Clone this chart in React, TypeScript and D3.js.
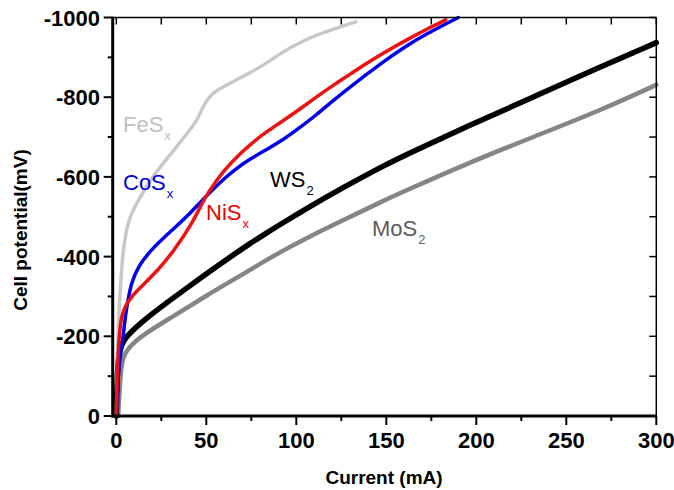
import React from "react";
import * as d3 from "d3";

type P = [number, number];

const xTicksMajor = [0, 50, 100, 150, 200, 250, 300];
const xTicksMinor = [25, 75, 125, 175, 225, 275];
const yTicksMajor = [0, -200, -400, -600, -800, -1000];
const yTicksMinor = [-100, -300, -500, -700, -900];

const feS: P[] = [
  [0, 0], [0.2, -50], [0.5, -100], [0.8, -166], [1.3, -249], [2.4, -333], [3.7, -417],
  [6.5, -492], [12, -540], [18, -585], [23, -617], [32, -667], [41.7, -722], [45.5, -747],
  [49, -785], [53, -808], [57, -820], [63, -835], [70, -851], [77, -868], [85, -890],
  [93, -915], [102, -937], [111, -956], [122, -973], [133, -989],
];
const coS: P[] = [
  [0, 0], [0.5, -60], [1.2, -110], [2.2, -150], [3.2, -180], [4.2, -215], [5, -250],
  [6.5, -291], [8.3, -333], [12, -375], [19.4, -417], [26, -446], [32.4, -472], [41.7, -512],
  [47, -538], [54, -570], [60, -596], [67, -622], [74, -644], [84, -670], [93, -694],
  [102, -724], [111, -755], [120.5, -792], [130, -826], [139, -857], [148, -888], [163, -935],
  [177, -970], [190, -1000],
];
const niS: P[] = [
  [0, 0], [0.3, -60], [0.6, -110], [1, -160], [1.8, -210], [2.8, -249], [4.7, -274],
  [8.3, -299], [13.9, -325], [23.2, -366], [32.4, -417], [41.7, -480], [47, -528], [51, -562],
  [60, -618], [69, -660], [78, -695], [84, -715], [93, -742], [102, -770], [111, -800],
  [120.5, -830], [130, -858], [139, -885], [148, -910], [163, -948], [173, -972], [183, -994],
];
const wS2: P[] = [
  [0, 0], [0.2, -50], [0.6, -110], [1.2, -145], [1.9, -166], [4, -190], [8.3, -212],
  [17.6, -249], [32.4, -299], [51, -360], [62, -395], [74, -432], [84, -461], [93, -486],
  [111, -535], [130, -583], [148, -627], [163, -660], [195, -727], [232, -801], [269, -876],
  [300, -937],
];
const moS2: P[] = [
  [1, 0], [1.5, -40], [2, -80], [2.8, -124], [4, -150], [6.5, -170], [13.9, -202],
  [32.4, -252], [51, -305], [70, -355], [84, -393], [93, -416], [111, -459], [130, -500],
  [148, -539], [158, -560], [195, -634], [232, -701], [269, -767], [300, -831],
];

const FONT = "'Liberation Sans', Arial, sans-serif";

export default function App() {
  const x = d3.scaleLinear().domain([-2, 300]).range([112.7, 656.3]);
  const y = d3.scaleLinear().domain([0, -1000]).range([416, 17.5]);
  const line = d3
    .line<P>()
    .x((d) => x(d[0]))
    .y((d) => y(d[1]))
    .curve(d3.curveBasis);

  const left = x(-2);
  const right = x(300);
  const top = y(-1000);
  const bottom = y(0);

  const allXTicks = [...xTicksMajor, ...xTicksMinor];
  const allYTicks = [...yTicksMajor, ...yTicksMinor];

  const series: { data: P[]; color: string; w: number }[] = [
    { data: moS2, color: "#858585", w: 4.5 },
    { data: wS2, color: "#000000", w: 5.5 },
    { data: feS, color: "#c8c8c8", w: 3.5 },
    { data: coS, color: "#0000ee", w: 3.5 },
    { data: niS, color: "#ee1111", w: 3.5 },
  ];

  const label = (
    tx: number,
    ty: number,
    main: string,
    sub: string,
    color: string
  ) => (
    <text x={tx} y={ty} fill={color} fontFamily={FONT} fontSize={22}>
      <tspan>{main}</tspan>
      <tspan dx={1} dy={8} fontSize={13}>
        {sub}
      </tspan>
    </text>
  );

  return (
    <svg
      width={674}
      height={490}
      style={{ position: "absolute", left: 0, top: 0, background: "#fff" }}
    >
      <rect x={0} y={0} width={674} height={490} fill="#fff" />
      {series.map((s, i) => (
        <path
          key={i}
          d={line(s.data) || ""}
          fill="none"
          stroke={s.color}
          strokeWidth={s.w}
          strokeLinejoin="round"
          strokeLinecap="round"
        />
      ))}

      {/* frame */}
      <line x1={left} y1={top} x2={right} y2={top} stroke="#000" strokeWidth={1.5} />
      <line x1={right} y1={top} x2={right} y2={bottom} stroke="#000" strokeWidth={1.5} />
      <line x1={left} y1={top - 0.75} x2={left} y2={bottom + 1.5} stroke="#000" strokeWidth={3} />
      <line x1={left - 1.5} y1={bottom} x2={right + 0.75} y2={bottom} stroke="#000" strokeWidth={3} />

      {/* bottom ticks (outward) */}
      {xTicksMajor.map((t) => (
        <line key={"bM" + t} x1={x(t)} x2={x(t)} y1={bottom} y2={bottom + 9} stroke="#000" strokeWidth={2} />
      ))}
      {xTicksMinor.map((t) => (
        <line key={"bm" + t} x1={x(t)} x2={x(t)} y1={bottom} y2={bottom + 5} stroke="#000" strokeWidth={2} />
      ))}
      {/* top ticks (inward) */}
      {allXTicks.map((t) => (
        <line key={"t" + t} x1={x(t)} x2={x(t)} y1={top} y2={top + 7} stroke="#000" strokeWidth={1.5} />
      ))}
      {/* left ticks (outward) */}
      {yTicksMajor.map((t) => (
        <line key={"lM" + t} x1={left - 9} x2={left} y1={y(t)} y2={y(t)} stroke="#000" strokeWidth={2} />
      ))}
      {yTicksMinor.map((t) => (
        <line key={"lm" + t} x1={left - 5} x2={left} y1={y(t)} y2={y(t)} stroke="#000" strokeWidth={2} />
      ))}
      {/* right ticks (inward) */}
      {allYTicks.map((t) => (
        <line key={"r" + t} x1={right - 7} x2={right} y1={y(t)} y2={y(t)} stroke="#000" strokeWidth={1.5} />
      ))}

      {/* tick labels */}
      {xTicksMajor.map((t) => (
        <text
          key={"xl" + t}
          x={x(t)}
          y={448}
          textAnchor="middle"
          fontFamily={FONT}
          fontWeight="bold"
          fontSize={22}
        >
          {t}
        </text>
      ))}
      {yTicksMajor.map((t) => (
        <text
          key={"yl" + t}
          x={100}
          y={y(t) + 8}
          textAnchor="end"
          fontFamily={FONT}
          fontWeight="bold"
          fontSize={22}
        >
          {t}
        </text>
      ))}

      {/* axis titles */}
      <text
        x={384}
        y={484}
        textAnchor="middle"
        fontFamily={FONT}
        fontWeight="bold"
        fontSize={19}
      >
        Current (mA)
      </text>
      <text
        transform="translate(27,230) rotate(-90)"
        textAnchor="middle"
        fontFamily={FONT}
        fontWeight="bold"
        fontSize={19}
      >
        Cell potential(mV)
      </text>

      {/* curve labels */}
      {label(123, 132, "FeS", "x", "#c0c0c0")}
      {label(123, 190, "CoS", "x", "#0000dd")}
      {label(206, 220, "NiS", "x", "#ee0000")}
      {label(270, 187, "WS", "2", "#000000")}
      {label(372, 236, "MoS", "2", "#5a5a5a")}
    </svg>
  );
}
